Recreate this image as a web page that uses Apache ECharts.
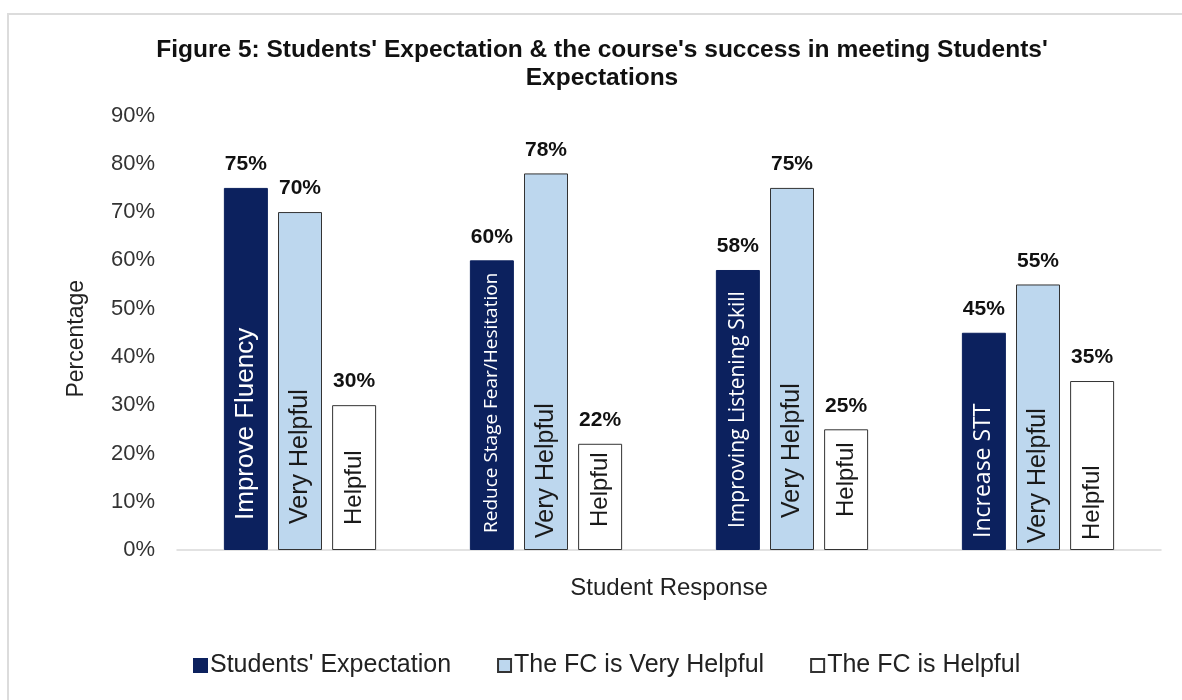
<!DOCTYPE html>
<html>
<head>
<meta charset="utf-8">
<title>Figure 5</title>
<script src="https://cdn.jsdelivr.net/npm/echarts@6/dist/echarts.min.js"></script>
<style>
    html, body { margin: 0; padding: 0; background: #fff; }
    #chart { width: 1182px; height: 700px; }
</style>
</head>
<body>
<div id="chart"></div>
<script>
    /*数据*/
    var categories = ['Improve Fluency', 'Reduce Stage Fear/Hesitation', 'Improving Listening Skill', 'Increase STT'];
    var seriesNames = ["Students' Expectation", 'The FC is Very Helpful', 'The FC is Helpful'];
    var expectation = [75, 60, 58, 45];
    var veryHelpful = [70, 78, 75, 55];
    var helpful = [30, 22, 25, 35];
    var veryHelpfulText = ['Very Helpful', 'Very Helpful', 'Very Helpful', 'Very Helpful'];
    var helpfulText = ['Helpful', 'Helpful', 'Helpful', 'Helpful'];
    var yTicks = [0, 10, 20, 30, 40, 50, 60, 70, 80, 90];

    var colors = ['#0c215e', '#bdd7ee', '#ffffff'];

    // inner label looks (font / size / distance from the bottom)
    var innerStyle = [
        [['Arial', 26, 30], ['Open Sans', 19, 17], ['Open Sans', 21, 22], ['Open Sans', 23, 12]],
        [['Arial', 25, 26], ['Arial', 25, 12], ['Arial', 25, 32], ['Arial', 25, 7]],
        [['Arial', 24, 25], ['Arial', 24, 23], ['Arial', 24, 33], ['Arial', 24, 10]]
    ];

    function makeData(vals, texts, k, textColor) {
        return vals.map(function (v, i) {
            var st = innerStyle[k][i];
            return {
                value: v,
                label: {
                    show: true,
                    formatter: texts[i],
                    position: 'insideBottom',
                    rotate: 90,
                    align: 'left',
                    verticalAlign: 'middle',
                    distance: st[2],
                    color: textColor,
                    fontFamily: st[0],
                    fontSize: st[1]
                }
            };
        });
    }

    function barSeries(name, vals, texts, k, textColor) {
        return {
            name: name,
            type: 'bar',
            xAxisIndex: 0,
            barWidth: 44,
            barGap: '23%',
            itemStyle: {
                color: colors[k],
                borderColor: k === 0 ? colors[0] : '#333333',
                borderWidth: 1
            },
            data: makeData(vals, texts, k, textColor)
        };
    }

    function topSeries(vals, k) {
        return {
            name: 'top' + k,
            type: 'bar',
            xAxisIndex: 1,
            barWidth: 44,
            barGap: '23%',
            silent: true,
            itemStyle: { color: 'rgba(0,0,0,0)' },
            label: {
                show: true,
                position: 'top',
                distance: 13,
                formatter: '{c}%',
                fontFamily: 'Arial',
                fontWeight: 'bold',
                fontSize: 21,
                color: '#111'
            },
            data: vals
        };
    }

    function makeChart() {
        var chart = echarts.init(document.getElementById('chart'));
        var option = {
            animation: false,
            backgroundColor: '#fff',
            textStyle: { fontFamily: 'Arial' },
            graphic: [
                {
                    type: 'rect',
                    shape: { x: 8, y: 14, width: 1300, height: 800 },
                    style: { fill: 'none', stroke: '#dcdcdc', lineWidth: 2 },
                    silent: true
                }
            ],
            title: {
                text: "Figure 5: Students' Expectation & the course's success in meeting Students'\nExpectations",
                left: 597,
                top: 31,
                textAlign: 'center',
                textStyle: {
                    fontFamily: 'Arial',
                    fontWeight: 'bold',
                    fontSize: 24.5,
                    lineHeight: 28,
                    color: '#111'
                }
            },
            legend: {
                data: seriesNames,
                left: 188,
                top: 648,
                icon: 'rect',
                itemWidth: 13,
                itemHeight: 13,
                itemGap: 46,
                textStyle: { fontFamily: 'Arial', fontSize: 25, color: '#222', padding: [0, 0, 0, -2] },
                selectedMode: false
            },
            grid: {
                left: 177,
                right: 21,
                top: 115.5,
                bottom: 150
            },
            xAxis: [
                {
                    type: 'category',
                    data: categories,
                    name: 'Student Response',
                    nameLocation: 'middle',
                    nameGap: 26,
                    nameTextStyle: { fontFamily: 'Arial', fontSize: 24, color: '#222' },
                    axisLine: { show: true, lineStyle: { color: '#d9d9d9', width: 1.5 } },
                    axisTick: { show: false },
                    axisLabel: { show: false }
                },
                {
                    type: 'category',
                    data: categories,
                    show: false
                }
            ],
            yAxis: [
                {
                    type: 'value',
                    min: yTicks[0],
                    max: yTicks[yTicks.length - 1],
                    interval: 10,
                    name: 'Percentage',
                    nameLocation: 'middle',
                    nameRotate: 90,
                    nameGap: 89,
                    nameTextStyle: { fontFamily: 'Arial', fontSize: 23, color: '#222', padding: [0, 12, 0, 0] },
                    splitLine: { show: false },
                    axisLine: { show: false },
                    axisTick: { show: false },
                    axisLabel: {
                        formatter: '{value}%',
                        fontFamily: 'Arial',
                        fontSize: 22,
                        color: '#333',
                        margin: 22
                    }
                }
            ],
            series: [
                barSeries(seriesNames[0], expectation, categories, 0, '#ffffff'),
                barSeries(seriesNames[1], veryHelpful, veryHelpfulText, 1, '#1a1a1a'),
                barSeries(seriesNames[2], helpful, helpfulText, 2, '#1a1a1a'),
                topSeries(expectation, 0),
                topSeries(veryHelpful, 1),
                topSeries(helpful, 2)
            ]
        };
        chart.setOption(option);
    }
    makeChart();
</script>
</body>
</html>
